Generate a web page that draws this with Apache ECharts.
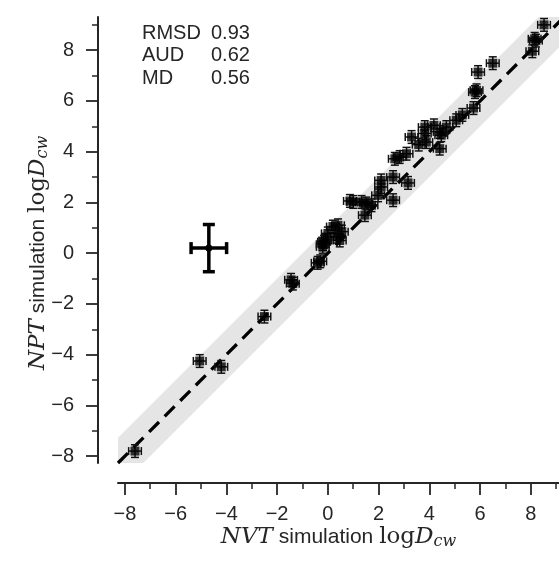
<!DOCTYPE html>
<html>
<head>
<meta charset="utf-8">
<script src="https://cdn.jsdelivr.net/npm/echarts@6/dist/echarts.min.js"></script>
<style>
html,body{margin:0;padding:0;background:#fff;}
#chart{width:559px;height:565px;}
</style>
</head>
<body>
<div id="chart"></div>
<script>
// ---- data ----
const nvtValues = [-7.6,-5.05,-4.2,-2.5,-1.45,-1.38,-0.4,-0.3,-0.2,-0.15,-0.2,-0.1,0.0,0.2,0.4,0.55,0.47,0.35,0.87,1.0,1.33,1.52,1.72,1.46,1.98,2.1,2.1,2.57,2.57,3.16,2.64,2.83,3.1,3.3,3.58,3.82,3.82,3.88,4.18,4.41,4.47,4.67,4.41,5.06,5.3,5.74,5.8,5.86,5.92,6.5,8.06,8.15,8.2,8.52];
const nptValues = [-7.8,-4.25,-4.48,-2.5,-1.05,-1.2,-0.38,-0.32,0.25,0.45,0.35,0.5,0.78,1.05,1.1,0.85,0.5,0.65,2.06,2.02,2.02,1.96,1.89,1.5,2.28,2.87,2.61,3.0,2.09,2.77,3.72,3.79,3.92,4.58,4.28,4.97,4.72,4.38,5.04,4.78,4.65,4.97,4.12,5.24,5.45,5.72,6.35,6.42,7.14,7.49,7.96,8.45,8.38,9.0];
const pointErrX = 0.25;   // per-point error bar half-width (x)
const pointErrY = 0.25;   // per-point error bar half-height (y)
const meanErrPoint = [-4.69, 0.2];   // representative error cross
const meanErrX = 0.7;
const meanErrY = 0.93;
const bandHalfWidth = 1;
const diagRange = [-8.27, 9.31];
const majorTicks = [-8,-6,-4,-2,0,2,4,6,8];
const minorTicks = [-7,-5,-3,-1,1,3,5,7,9];
const statNames = ['RMSD','AUD','MD'];
const statValues = ['0.93','0.62','0.56'];

// ---- chart ----
const TXT = '#262626';
const chart = echarts.init(document.getElementById('chart'), null, {renderer:'canvas'});
const fmt = v => (v < 0 ? '\u2212' + Math.abs(v) : String(v));

function mkAxis(dim, minor) {
  const isX = dim === 'x';
  return {
    type: 'value',
    gridIndex: 0,
    position: isX ? 'bottom' : 'left',
    offset: 20,
    min: diagRange[0],
    max: isX ? 9.11 : diagRange[1],
    splitLine: {show: false},
    axisLine: {show: !minor, onZero: false, lineStyle: {color: TXT, width: 2}},
    axisTick: {show: true, customValues: minor ? minorTicks : majorTicks, length: minor ? 6 : 12,
               lineStyle: {color: TXT, width: minor ? 1.5 : 1.8}},
    axisLabel: minor ? {show: false} : {
      show: true, customValues: majorTicks, formatter: fmt, color: TXT,
      fontFamily: 'Liberation Sans', fontSize: 20, margin: isX ? 21 : 24
    },
    name: minor ? '' : (isX
      ? '{it|NVT}{sans| simulation }{rm|log}{it|D}{sub|cw}'
      : '{it|NPT}{sans| simulation }{rm|log}{it|D}{sub|cw}'),
    nameLocation: 'middle',
    nameMoveOverlap: false,
    nameGap: isX ? 41 : 47,
    nameTextStyle: {
      color: TXT,
      padding: isX ? [0, 0, 0, 0] : [0, 26, 0, 0],
      rich: {
        it: {fontFamily: 'DejaVu Serif', fontStyle: 'italic', fontSize: 23, color: TXT},
        rm: {fontFamily: 'DejaVu Serif', fontSize: 23, color: TXT},
        sans: {fontFamily: 'Liberation Sans', fontSize: 21, color: TXT},
        sub: {fontFamily: 'DejaVu Serif', fontStyle: 'italic', fontSize: 16, color: TXT, padding: [10,0,0,0]}
      }
    }
  };
}

function errItem(x, y, ex, ey, api, cap, lw, color) {
  const l = api.coord([x - ex, y]), r = api.coord([x + ex, y]);
  const t = api.coord([x, y + ey]), b = api.coord([x, y - ey]);
  const st = {stroke: color, lineWidth: lw};
  return [
    {type:'line', shape:{x1:l[0],y1:l[1],x2:r[0],y2:r[1]}, style:st},
    {type:'line', shape:{x1:t[0],y1:t[1],x2:b[0],y2:b[1]}, style:st},
    {type:'line', shape:{x1:l[0],y1:l[1]-cap,x2:l[0],y2:l[1]+cap}, style:st},
    {type:'line', shape:{x1:r[0],y1:r[1]-cap,x2:r[0],y2:r[1]+cap}, style:st},
    {type:'line', shape:{x1:t[0]-cap,y1:t[1],x2:t[0]+cap,y2:t[1]}, style:st},
    {type:'line', shape:{x1:b[0]-cap,y1:b[1],x2:b[0]+cap,y2:b[1]}, style:st}
  ];
}

const pts = nvtValues.map((x, i) => [x, nptValues[i], pointErrX, pointErrY]);

const option = {
  animation: false,
  backgroundColor: '#fff',
  grid: {left: 118, right: 0, top: 17, bottom: 102, containLabel: false},
  xAxis: [mkAxis('x', false), mkAxis('x', true)],
  yAxis: [mkAxis('y', false), mkAxis('y', true)],
  graphic: statNames.map((n, i) => ({
    type: 'group', left: 142, top: 23 + i * 22.5, silent: true,
    children: [
      {type:'text', x:0, y:0, style:{text:n, fill:TXT, font:'20px "Liberation Sans"'}},
      {type:'text', x:69, y:0, style:{text:statValues[i], fill:TXT, font:'20px "Liberation Sans"'}}
    ]
  })),
  series: [
    {
      type: 'custom', xAxisIndex: 0, yAxisIndex: 0, clip: true, z: 1, silent: true,
      data: [[diagRange[0] - 2, diagRange[1] + 2]],
      renderItem: (params, api) => {
        const a = api.value(0), b = api.value(1);
        const pts = [[a, a - bandHalfWidth], [b, b - bandHalfWidth], [b, b + bandHalfWidth], [a, a + bandHalfWidth]].map(p => api.coord(p));
        return {type:'polygon', shape:{points: pts}, style:{fill:'#e5e5e5'}};
      }
    },
    {
      type: 'line', xAxisIndex: 0, yAxisIndex: 0, z: 2, silent: true, showSymbol: false,
      data: [[diagRange[0], diagRange[0]], [diagRange[1], diagRange[1]]],
      lineStyle: {color: '#000', width: 3.3, type: [14, 8]}
    },
    {
      type: 'custom', xAxisIndex: 0, yAxisIndex: 0, z: 3, silent: true,
      data: pts,
      renderItem: (params, api) => ({
        type: 'group',
        children: errItem(api.value(0), api.value(1), api.value(2), api.value(3), api, 4, 1.5, '#111')
      })
    },
    {
      type: 'scatter', xAxisIndex: 0, yAxisIndex: 0, z: 4, silent: true,
      symbol: 'rect', symbolSize: 9,
      itemStyle: {color: '#000'},
      data: pts.map(p => [p[0], p[1]])
    },
    {
      type: 'custom', xAxisIndex: 0, yAxisIndex: 0, z: 5, silent: true,
      data: [[meanErrPoint[0], meanErrPoint[1], meanErrX, meanErrY]],
      renderItem: (params, api) => {
        const c = api.coord([api.value(0), api.value(1)]);
        const ch = errItem(api.value(0), api.value(1), api.value(2), api.value(3), api, 6, 3.5, '#000');
        ch.push({type:'circle', shape:{cx:c[0], cy:c[1], r:3.5}, style:{fill:'#000'}});
        return {type:'group', children: ch};
      }
    }
  ]
};
chart.setOption(option);
</script>
</body>
</html>
